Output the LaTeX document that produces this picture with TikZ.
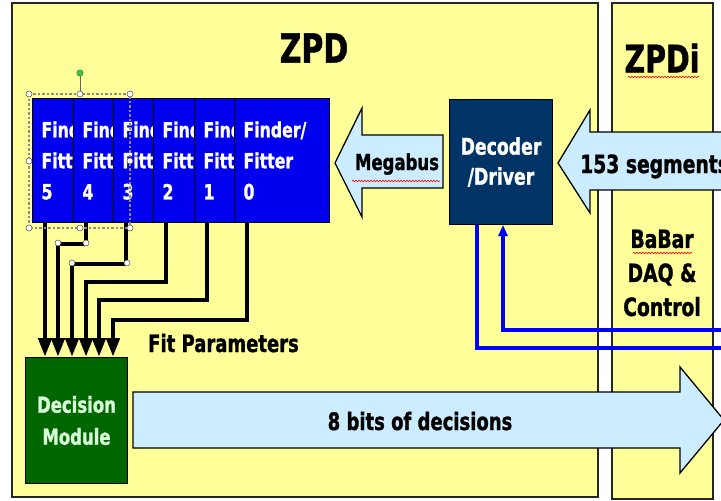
\documentclass[tikz,border=0pt]{standalone}
\usepackage{fontspec}
\newfontfamily\zpdfont{DejaVu Sans}[FakeStretch=0.75, BoldFeatures={FakeBold=1.2}]
\usetikzlibrary{arrows.meta,decorations.pathmorphing}

\definecolor{zpdyellow}{HTML}{FFFF99}
\definecolor{finderblue}{HTML}{0000EE}
\definecolor{decodernavy}{HTML}{003366}
\definecolor{busblue}{HTML}{CCECFF}
\definecolor{decisiongreen}{HTML}{006600}
\definecolor{decisiontext}{HTML}{D8FFD8}
\definecolor{ctrlblue}{HTML}{0000FF}
\definecolor{handlegreen}{HTML}{33CC33}

\begin{document}
\begin{tikzpicture}
  [x=1pt, y=-1pt,
   crate/.style={draw=black!85, fill=zpdyellow, line width=1.3pt},
   finder/.style={draw=black, fill=finderblue, line width=1pt, anchor=north west,
     minimum width=95pt, minimum height=124pt, text width=77pt, inner xsep=9pt, inner ysep=0pt,
     align=left, text=white, font=\zpdfont\bfseries\fontsize{21}{31}\selectfont},
   decision/.style={draw=black, fill=decisiongreen, line width=1pt, anchor=north west,
     minimum width=102pt, minimum height=126pt, align=center, text=decisiontext,
     font=\zpdfont\bfseries\fontsize{22}{32}\selectfont},
   decoder/.style={draw=black, fill=decodernavy, line width=1pt, anchor=north west,
     minimum width=103pt, minimum height=125pt, align=center, text=white,
     font=\zpdfont\bfseries\fontsize{23}{30}\selectfont},
   busarrow/.style={draw=black, fill=busblue, line width=1.3pt, line join=miter},
   fitline/.style={draw=black, line width=4.5pt, -{Triangle[length=19pt, width=13pt]}},
   ctrlline/.style={draw=ctrlblue, line width=3.5pt},
   bigtext/.style={font=\zpdfont\bfseries\fontsize{#1}{#1}\selectfont, inner sep=0pt},
   spellmark/.style={draw=red, line width=0.6pt, decorate,
     decoration={snake, amplitude=0.8pt, segment length=3pt}},
   handle/.style={draw=black!70, fill=white, line width=0.5pt}]

  % Marco
  \useasboundingbox (0,0) rectangle (721,501);
  \clip (0,0) rectangle (721,501);
  \fill[white] (0,0) rectangle (721,501);
  \draw[crate] (12,3) rectangle (598,497);
  \draw[crate] (612,3) rectangle (713,499);

  % Titulos
  \node[bigtext=40] (zpd) at (314,48) {ZPD};
  \node[bigtext=38] (zpdi) at (662,58) {ZPDi};
  \node[bigtext=25, align=center, font=\zpdfont\bfseries\fontsize{25}{34}\selectfont]
    (babar) at (662,273) {BaBar\\DAQ \&\\Control};

  % Finder/Fitter
  \foreach \n/\x in {5/32, 4/73, 3/113, 2/153, 1/194, 0/234}
    \node[finder] (f\n) at (\x,98) {Finder/\\Fitter\\\n};

  % Decision, Decoder
  \node[decision] (dm) at (25,357) {Decision\\Module};
  \node[decoder] (dec) at (449,99) {Decoder\\/Driver};

  % Flechas anchas
  \draw[busarrow] (335,163) -- (362,108) -- (362,135) -- (443,135) -- (443,188)
    -- (362,188) -- (362,217) -- cycle;
  \draw[busarrow] (558,163) -- (590,110) -- (590,132) -- (730,132) -- (730,190)
    -- (590,190) -- (590,213) -- cycle;
  \draw[busarrow] (133,392) -- (680,392) -- (680,367) -- (724,420) -- (680,473)
    -- (680,448) -- (133,448) -- cycle;
  \node[bigtext=22, anchor=base] (megabus) at (397,170) {Megabus};
  \node[bigtext=25, anchor=base west] (segments) at (580,173) {153 segments};
  \node[bigtext=24, anchor=base] (decisions) at (420,430) {8 bits of decisions};

  % Parametros de ajuste
  \draw[fitline] ([xshift=13pt]f5.south west) -- ([xshift=20pt]dm.north west);
  \foreach \n/\x/\d in {4/33/21, 3/47/41, 2/61/59, 1/74/77, 0/88/97}
    \draw[fitline] ([xshift=13pt]f\n.south west) -- ++(0,\d) -| ([xshift=\x pt]dm.north west);
  \node[bigtext=24, anchor=base west] (fitpar) at (148,352) {Fit Parameters};

  % Control
  \coordinate (daqout) at (725,348);
  \coordinate (daqin) at (725,330);
  \draw[ctrlline] ([xshift=28pt]dec.south west) |- (daqout);
  \draw[ctrlline, -{Triangle[length=11pt, width=9pt]}] (daqin) -| ([xshift=54pt]dec.south west);

  % Seleccion
  \draw[black!45, line width=2.5pt, dotted] (29,94) rectangle (130,228);
  \draw[black!60, line width=0.8pt] (80,94) -- (80,73);
  \fill[handlegreen, draw=black!60, line width=0.5pt] (80,73) circle (3.2);
  \foreach \hx/\hy in {29/94, 80/94, 130/94, 29/161, 130/161, 29/228, 80/228, 130/228,
      86/243, 58/243, 127/263, 72/263}
    \draw[handle] (\hx,\hy) circle (3);

  % Subrayado
  \draw[spellmark] (352,181) -- (440,181);
  \draw[spellmark] (628,77) -- (699,77);
  \draw[spellmark] (633,253) -- (692,253);
\end{tikzpicture}
\end{document}
